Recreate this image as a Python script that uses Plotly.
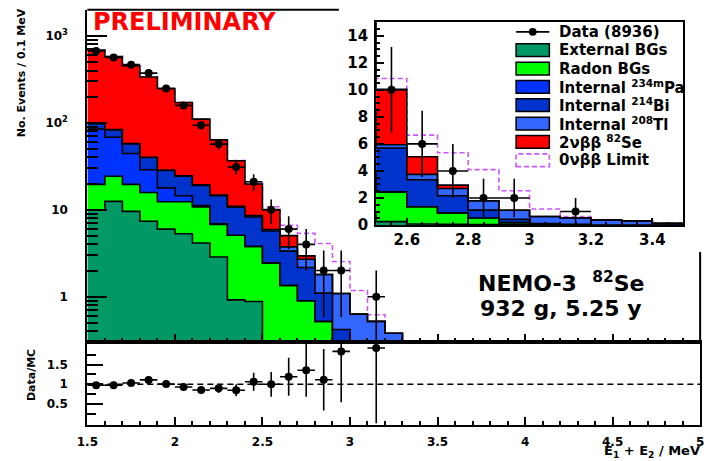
import numpy as np
import plotly.graph_objects as go

W, H = 710, 461

# ---- histogram content: 0.1 MeV bins between 1.5 and 3.5 MeV ----
bin_lo = [1.5, 1.6, 1.7, 1.8, 1.9, 2.0, 2.1, 2.2, 2.3, 2.4,
          2.5, 2.6, 2.7, 2.8, 2.9, 3.0, 3.1, 3.2, 3.3, 3.4]
bin_width = 0.1

data_counts = [671, 566, 468, 374, 249, 159, 94, 57, 31, 21,
               10, 6, 4, 2, 2, 0, 1, 0, 0, 0]

external_bg = [10.0, 12.5, 9.6, 7.4, 6.0, 5.3, 4.15, 2.86, 0.92, 0.88,
               0.25, 0.08, 0.05, 0.03, 0.03, 0, 0, 0, 0, 0]
radon_bg = [9.6, 11.8, 10.0, 8.4, 6.4, 7.1, 6.65, 3.94, 4.18, 2.92,
            2.2, 1.27, 0.85, 0.49, 0.15, 0.03, 0, 0, 0, 0]
internal_pa234m = [65.1, 44.1, 24.8, 13.1, 5.5, 2.1, 0.4, 0.1, 0, 0,
                   0, 0, 0, 0, 0, 0, 0, 0, 0, 0]
internal_bi214 = [13.3, 15.0, 13.1, 11.1, 10.5, 9.8, 7.9, 7.6, 5.6, 4.48,
                  3.25, 2.0, 1.27, 0.58, 0.24, 0.07, 0.05, 0, 0, 0]
internal_tl208 = [0.3, 0.3, 0.3, 0.3, 0.3, 0.3, 0.3, 0.3, 0.3, 0.3,
                  0.24, 0.4, 0.53, 0.7, 0.67, 0.53, 0.47, 0.38, 0.31, 0.12]
two_nu_bb = [591, 497, 397, 297, 220, 147, 91, 49, 25.7, 11.2,
             4.1, 1.3, 0.25, 0, 0, 0, 0, 0, 0, 0]
zero_nu_limit = [0, 0, 0, 0, 0, 0, 0, 0, 0.15, 0.5,
                 0.8, 1.6, 2.4, 2.3, 1.45, 0.55, 0.1, 0, 0, 0]

layer_names = ["External BGs", "Radon BGs", "Internal <sup>234m</sup>Pa",
               "Internal <sup>214</sup>Bi", "Internal <sup>208</sup>Tl",
               "2\u03bd\u03b2\u03b2 <sup>82</sup>Se"]
layer_values = [external_bg, radon_bg, internal_pa234m,
                internal_bi214, internal_tl208, two_nu_bb]
layer_colors = ["#009966", "#00ff00", "#0033ff", "#0033cc", "#3366ff", "#ff0000"]
limit_color = "#cc55ff"

total_events_label = "Data (8936)"

# ---- derived quantities ----
edges = np.round(np.array(bin_lo + [bin_lo[-1] + bin_width]), 4)
centers = np.round(np.array(bin_lo) + bin_width / 2, 4)
cum = np.cumsum(np.array(layer_values, dtype=float), axis=0)
total_mc = cum[-1]
with_limit = total_mc + np.array(zero_nu_limit)
counts = np.array(data_counts, dtype=float)
has_data = counts > 0


def px(x):
    return x / W


def py(y):
    return 1 - y / H


def step_xy(vals, floor):
    v = np.where(np.asarray(vals, float) > floor, vals, floor)
    x = list(edges) + [edges[-1]]
    y = list(v) + [v[-1], floor]
    return x, y


FONT = "DejaVu Sans"
fig = go.Figure()


def add_stack(xa, ya, floor):
    # dashed 0vbb limit drawn first so the stack covers it where it coincides
    x, y = step_xy(with_limit, floor)
    fig.add_trace(go.Scatter(x=x, y=y, mode="lines", line_shape="hv",
                             line=dict(color=limit_color, width=1.6, dash="5px,3px"),
                             xaxis=xa, yaxis=ya, showlegend=False, hoverinfo="skip"))
    x, y = step_xy(np.zeros(len(bin_lo)), floor)
    fig.add_trace(go.Scatter(x=x, y=y, mode="lines", line=dict(width=0),
                             xaxis=xa, yaxis=ya, showlegend=False, hoverinfo="skip"))
    for k in range(len(layer_values)):
        x, y = step_xy(cum[k], floor)
        fig.add_trace(go.Scatter(x=x, y=y, mode="lines", line_shape="hv",
                                 line=dict(color="black", width=1.6),
                                 fill="tonexty", fillcolor=layer_colors[k],
                                 xaxis=xa, yaxis=ya, showlegend=False,
                                 hoverinfo="skip"))
    fig.add_trace(go.Scatter(
        x=centers[has_data], y=counts[has_data], mode="markers",
        marker=dict(color="black", size=8),
        error_y=dict(type="data", array=np.sqrt(counts[has_data]),
                     color="black", thickness=1.6, width=0),
        error_x=dict(type="data", array=[bin_width / 2] * int(has_data.sum()),
                     color="black", thickness=1.6, width=0),
        xaxis=xa, yaxis=ya, showlegend=False, hoverinfo="skip"))


# main log panel and linear zoom inset
add_stack("x", "y", 1e-3)
add_stack("x3", "y3", 0.0)

# data / MC ratio
ratio = counts[has_data] / total_mc[has_data]
ratio_err = np.sqrt(counts[has_data]) / total_mc[has_data]
fig.add_trace(go.Scatter(
    x=centers[has_data], y=ratio, mode="markers",
    marker=dict(color="black", size=8),
    error_y=dict(type="data", array=ratio_err, color="black", thickness=1.6, width=0),
    error_x=dict(type="data", array=[bin_width / 2] * int(has_data.sum()),
                 color="black", thickness=1.6, width=0),
    xaxis="x2", yaxis="y2", showlegend=False, hoverinfo="skip"))

tick_font = dict(family=FONT, size=12, color="black", weight="bold")
inset_font = dict(family=FONT, size=15, color="black", weight="bold")
main_xdom = [px(78), px(704)]

axis_common = dict(showgrid=False, zeroline=False, linecolor="black", linewidth=2,
                   ticks="inside", tickcolor="black", tickwidth=1.5)

minor_log = [m * 10 ** e for e in range(-1, 3) for m in range(2, 10) if m * 10 ** e > 0.3]

fig.update_layout(
    width=W, height=H, margin=dict(l=0, r=0, t=0, b=0),
    paper_bgcolor="white", plot_bgcolor="white", showlegend=False,
    xaxis=dict(domain=main_xdom, range=[1.5, 5], anchor="y", showline=True,
               dtick=0.5, tick0=1.5, ticklen=8, showticklabels=False,
               minor=dict(dtick=0.1, tick0=1.5, ticks="inside", ticklen=4,
                          tickcolor="black", tickwidth=1.5),
               **axis_common),
    yaxis=dict(domain=[py(349), py(10)], type="log",
               range=[np.log10(0.3), np.log10(2000)], anchor="x", showline=True,
               tickvals=[1, 10, 100, 1000],
               ticktext=["1", "10", "10<sup>2</sup>", "10<sup>3</sup>"],
               ticklen=20, tickfont=tick_font, ticklabelstandoff=15,
               minor=dict(tickmode="array", tickvals=minor_log, ticks="inside",
                          ticklen=11, tickcolor="black", tickwidth=1.5),
               **axis_common),
    xaxis2=dict(domain=main_xdom, range=[1.5, 5], anchor="y2", showline=True,
                mirror=True, tickvals=[1.5, 2, 2.5, 3, 3.5, 4, 4.5, 5],
                ticktext=["1.5", "2", "2.5", "3", "3.5", "4", "4.5", "5"],
                ticklen=8, tickfont=tick_font, ticklabelstandoff=5,
                minor=dict(dtick=0.1, tick0=1.5, ticks="inside", ticklen=4,
                           tickcolor="black", tickwidth=1.5),
                **axis_common),
    yaxis2=dict(domain=[py(433), py(349)], range=[-0.03, 2.07], anchor="x2",
                showline=True, mirror=True, tickvals=[0.5, 1, 1.5],
                ticktext=["0.5", "1", "1.5"], ticklen=16, tickfont=tick_font,
                ticklabelstandoff=15,
                minor=dict(tickmode="array", tickvals=[0.25, 0.75, 1.25, 1.75],
                           ticks="inside", ticklen=9, tickcolor="black",
                           tickwidth=1.5),
                **axis_common),
    xaxis3=dict(domain=[px(373), px(686.5)], range=[2.5, 3.5], anchor="y3",
                showline=True, mirror=True, tickvals=[2.6, 2.8, 3.0, 3.2, 3.4],
                ticktext=["2.6", "2.8", "3", "3.2", "3.4"], ticklen=7,
                tickfont=inset_font,
                minor=dict(dtick=0.05, tick0=2.5, ticks="inside", ticklen=3.5,
                           tickcolor="black", tickwidth=1.5),
                **axis_common),
    yaxis3=dict(domain=[py(229.5), py(22.7)], range=[0, 15], anchor="x3",
                showline=True, mirror=True, tickvals=list(range(0, 15, 2)),
                ticklen=8, tickfont=inset_font, ticklabelstandoff=3,
                minor=dict(dtick=0.5, tick0=0, ticks="inside", ticklen=4,
                           tickcolor="black", tickwidth=1.5),
                **axis_common),
)

shapes = []
# visible parts of the main frame (the inset pad hides the rest)
shapes.append(dict(type="line", xref="paper", yref="paper", x0=px(78), x1=px(335),
                   y0=py(10), y1=py(10), line=dict(color="black", width=2)))
shapes.append(dict(type="line", xref="paper", yref="paper", x0=px(704), x1=px(704),
                   y0=py(257), y1=py(349), line=dict(color="black", width=2)))
# unity line in the ratio panel
shapes.append(dict(type="line", xref="x2", yref="y2", x0=1.5, x1=5, y0=1, y1=1,
                   line=dict(color="black", width=1.5, dash="6px,4px")))

# legend of the inset
leg_x0, leg_x1, leg_text_x = 516, 550, 558
row_y0, row_dy = 32.5, 18.7
annotations = []
leg_font = dict(family=FONT, size=15, color="black", weight="bold")

y0 = row_y0
shapes.append(dict(type="line", xref="paper", yref="paper", x0=px(leg_x0), x1=px(leg_x1),
                   y0=py(y0), y1=py(y0), line=dict(color="black", width=1.6)))
shapes.append(dict(type="circle", xref="paper", yref="paper", x0=px(529), x1=px(537),
                   y0=py(y0 - 4), y1=py(y0 + 4), fillcolor="black",
                   line=dict(color="black", width=0)))
annotations.append(dict(x=px(leg_text_x), y=py(y0), xref="paper", yref="paper",
                        text=total_events_label, showarrow=False, xanchor="left",
                        yanchor="middle", font=leg_font))
for k, name in enumerate(layer_names):
    yc = row_y0 + row_dy * (k + 1)
    shapes.append(dict(type="rect", xref="paper", yref="paper", x0=px(leg_x0),
                       x1=px(leg_x1), y0=py(yc + 6.5), y1=py(yc - 6.5),
                       fillcolor=layer_colors[k], line=dict(color="black", width=1.5)))
    annotations.append(dict(x=px(leg_text_x), y=py(yc), xref="paper", yref="paper",
                            text=name, showarrow=False, xanchor="left",
                            yanchor="middle", font=leg_font))
yc = row_y0 + row_dy * (len(layer_names) + 1)
shapes.append(dict(type="rect", xref="paper", yref="paper", x0=px(leg_x0),
                   x1=px(leg_x1), y0=py(yc + 6.5), y1=py(yc - 6.5),
                   fillcolor="rgba(0,0,0,0)",
                   line=dict(color=limit_color, width=1.6, dash="5px,3px")))
annotations.append(dict(x=px(leg_text_x), y=py(yc), xref="paper", yref="paper",
                        text="0\u03bd\u03b2\u03b2 Limit", showarrow=False,
                        xanchor="left", yanchor="middle", font=leg_font))

# titles and labels
annotations += [
    dict(x=px(177), y=py(22.5), xref="paper", yref="paper", text="PRELIMINARY",
         showarrow=False, xanchor="center", yanchor="middle",
         font=dict(family=FONT, size=24, color="#ff0000", weight="bold")),
    dict(x=px(11), y=py(74), xref="paper", yref="paper", text="No. Events / 0.1 MeV",
         showarrow=False, textangle=-90, xanchor="center", yanchor="middle",
         font=dict(family=FONT, size=11, color="black", weight="bold")),
    dict(x=px(21), y=py(383), xref="paper", yref="paper", text="Data/MC",
         showarrow=False, textangle=-90, xanchor="center", yanchor="middle",
         font=dict(family=FONT, size=11, color="black", weight="bold")),
    dict(x=px(705), y=py(470), xref="paper", yref="paper",
         text="E<sub>1</sub> + E<sub>2</sub> / MeV",
         showarrow=False, xanchor="right", yanchor="bottom", borderpad=0,
         font=dict(family=FONT, size=13, color="black", weight="bold")),
    dict(x=px(562), y=py(288), xref="paper", yref="paper",
         text="NEMO-3  <sup>82</sup>Se", showarrow=False, xanchor="center",
         yanchor="middle", font=dict(family=FONT, size=22, color="black", weight="bold")),
    dict(x=px(562), y=py(315), xref="paper", yref="paper",
         text="932 g, 5.25 y", showarrow=False, xanchor="center",
         yanchor="middle", font=dict(family=FONT, size=22, color="black", weight="bold")),
]

fig.update_layout(shapes=shapes, annotations=annotations)
fig.write_html("out.html")
